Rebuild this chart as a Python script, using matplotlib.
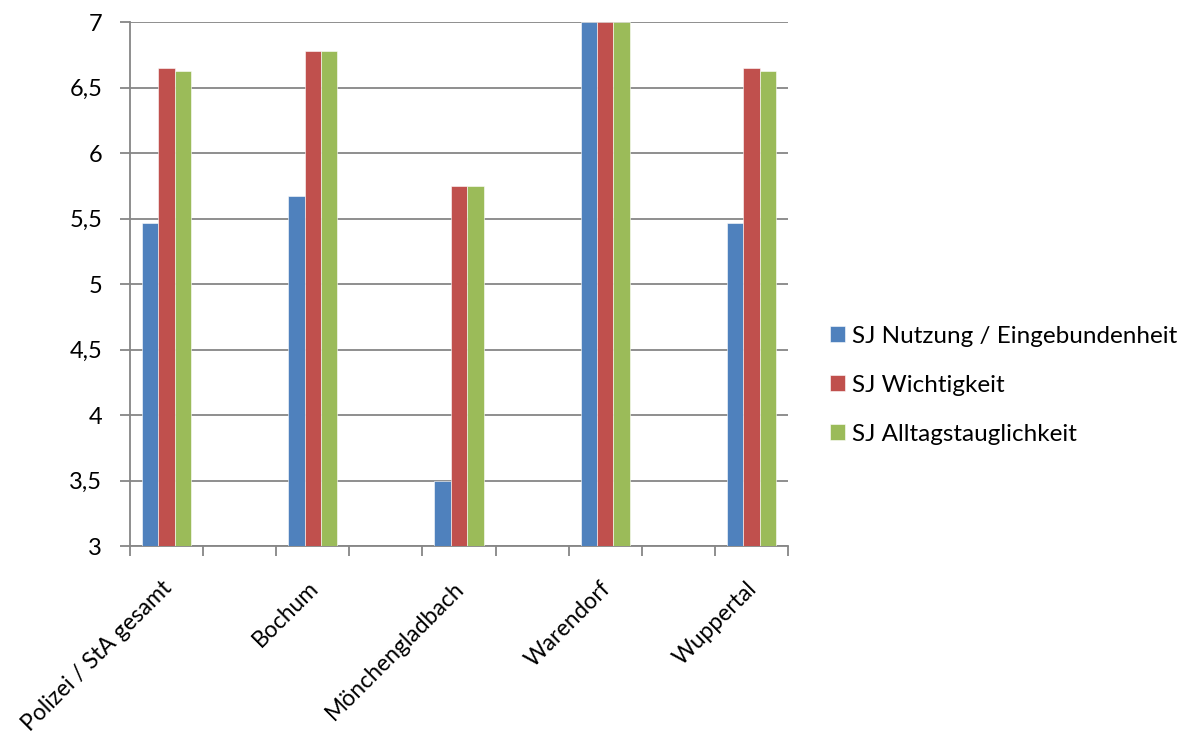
import numpy as np
import matplotlib
matplotlib.use("Agg")
import matplotlib.pyplot as plt

plt.rcParams['font.family'] = ['Lato', 'DejaVu Sans']

# categories (with empty slots between, as in the original sheet)
categories = ["Polizei / StA gesamt", "", "Bochum", "", "Mönchengladbach", "",
              "Warendorf", "", "Wuppertal"]
nutzung = [5.47, np.nan, 5.67, np.nan, 3.5, np.nan, 7.0, np.nan, 5.47]
wichtigkeit = [6.65, np.nan, 6.78, np.nan, 5.75, np.nan, 7.0, np.nan, 6.65]
alltag = [6.63, np.nan, 6.78, np.nan, 5.75, np.nan, 7.0, np.nan, 6.63]
series_names = ["SJ Nutzung / Eingebundenheit", "SJ Wichtigkeit", "SJ Alltagstauglichkeit"]
colors = ["#4F81BD", "#C0504D", "#9BBB59"]
y_ticks = [3, 3.5, 4, 4.5, 5, 5.5, 6, 6.5, 7]

fig = plt.figure(figsize=(11.84, 7.38), dpi=100)
ax = fig.add_axes([0.1098, 0.260, 0.5557, 0.710])

x = np.arange(len(categories))
w = 0.225
for i, (vals, name, c) in enumerate(zip([nutzung, wichtigkeit, alltag], series_names, colors)):
    vals = np.array(vals)
    ax.bar(x + (i - 1) * w, vals - 3, width=w, bottom=3, color=c, label=name,
           edgecolor="white", linewidth=0.4, zorder=3)

ax.set_xlim(-0.5, len(categories) - 0.5)
ax.set_ylim(3, 7)
ax.set_yticks(y_ticks)
ax.set_yticklabels([f"{v:g}".replace(".", ",") for v in y_ticks], fontsize=17)
ax.yaxis.grid(True, color="#868686", linewidth=1.3, zorder=0)
ax.tick_params(axis="y", length=7, color="#868686", width=1.3, pad=13)

ax.set_xticks(np.arange(-0.5, len(categories), 1.0))
ax.set_xticklabels([])
ax.tick_params(axis="x", length=7, color="#868686", width=1.3)
for xi, lab in zip(x, categories):
    if lab:
        ax.text(xi - 0.07, 2.76, lab, rotation=45, ha="right", va="top",
                rotation_mode="anchor", fontsize=16.5, transform=ax.transData)

for s in ["top", "right"]:
    ax.spines[s].set_visible(False)
for s in ["left", "bottom"]:
    ax.spines[s].set_color("#868686")
    ax.spines[s].set_linewidth(1.3)

leg = fig.legend(loc="center left", bbox_to_anchor=(0.693, 0.478), frameon=False,
                 fontsize=17.5, handlelength=0.6, handleheight=0.6,
                 handletextpad=0.3, labelspacing=1.15, borderaxespad=0)

fig.savefig("out.png", dpi=100)
